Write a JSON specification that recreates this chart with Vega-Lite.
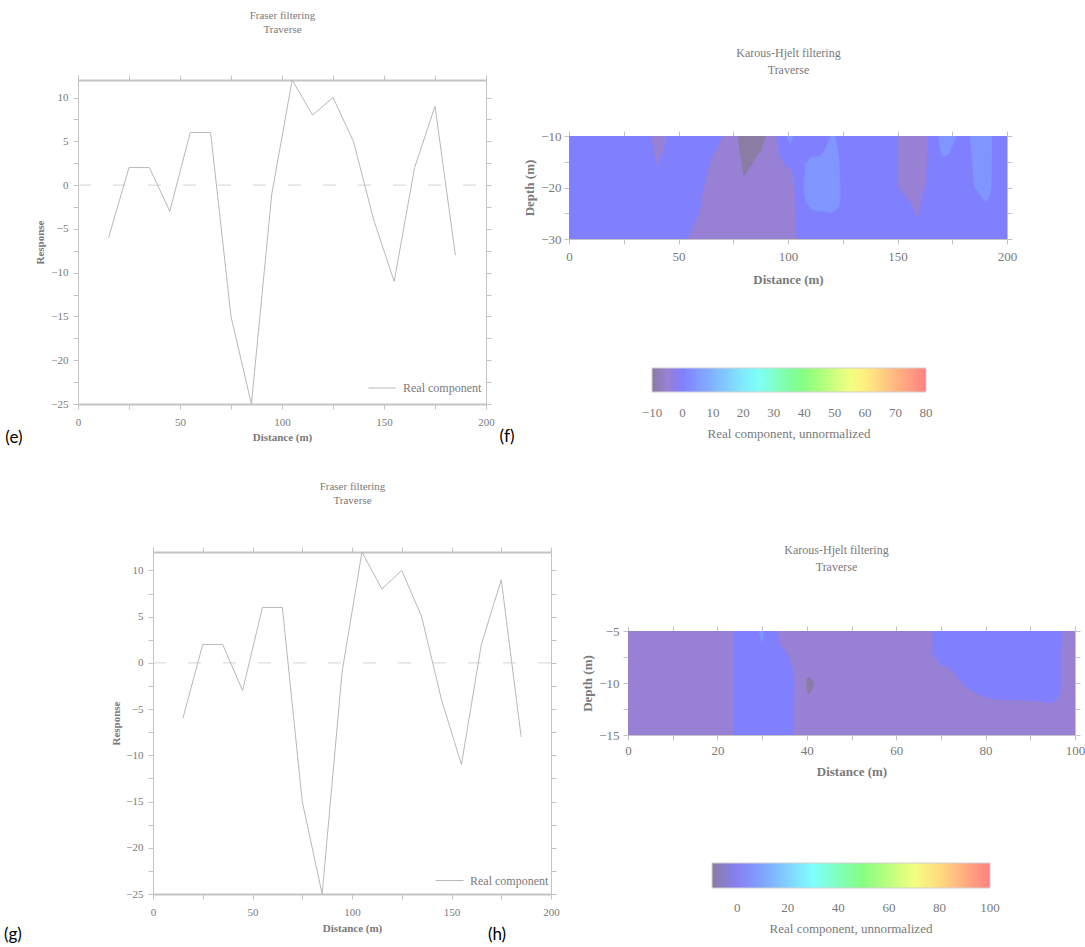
{
  "$schema": "https://vega.github.io/schema/vega-lite/v6.json",
  "background": "white",
  "width": 1085,
  "height": 947,
  "autosize": {"type": "none"},
  "padding": 0,
  "layer": [
    {
      "layer": [
        {
          "data": {"values": [{"z": 0, "a": 0, "b": 200}]},
          "mark": {"type": "rule", "stroke": "#d4d4d4", "strokeDash": [13, 22]},
          "encoding": {
            "x": {"field": "a", "type": "quantitative", "scale": {"domain": [0, 200], "range": [78, 486], "nice": false}, "axis": null},
            "x2": {"field": "b"},
            "y": {"field": "z", "type": "quantitative", "scale": {"domain": [-25, 12], "range": [404, 80], "nice": false, "zero": false}, "axis": null}
          }
        },
        {
          "data": {"values": [
            {"d": 15, "r": -6}, {"d": 25, "r": 2}, {"d": 35, "r": 2}, {"d": 45, "r": -3}, {"d": 55, "r": 6}, {"d": 65, "r": 6},
            {"d": 75, "r": -15}, {"d": 85, "r": -25}, {"d": 95, "r": -1}, {"d": 105, "r": 12}, {"d": 115, "r": 8}, {"d": 125, "r": 10},
            {"d": 135, "r": 5}, {"d": 145, "r": -4}, {"d": 155, "r": -11}, {"d": 165, "r": 2}, {"d": 175, "r": 9}, {"d": 185, "r": -8}
          ]},
          "mark": {"type": "line", "strokeWidth": 1},
          "encoding": {
            "x": {"field": "d", "type": "quantitative", "scale": {"domain": [0, 200], "range": [78, 486], "nice": false},
              "axis": {"orient": "bottom", "offset": -543, "values": [0, 25, 50, 75, 100, 125, 150, 175, 200], "labelExpr": "datum.value % 50 === 0 ? datum.label : ''", "format": "d", "title": "Distance (m)", "domainWidth": 2, "labelPadding": 7, "titlePadding": 4}},
            "y": {"field": "r", "type": "quantitative", "scale": {"domain": [-25, 12], "range": [404, 80], "nice": false, "zero": false},
              "axis": {"orient": "left", "offset": -78, "values": [-25, -22.5, -20, -17.5, -15, -12.5, -10, -7.5, -5, -2.5, 0, 2.5, 5, 7.5, 10], "labelExpr": "datum.value % 5 === 0 ? datum.label : ''", "format": "d", "title": "Response", "labelPadding": 5, "titlePadding": 5}},
            "color": {"datum": "Real component", "type": "nominal", "scale": {"range": ["#b8b8b8"]},
              "legend": {"orient": "none", "legendX": 368, "legendY": 374, "title": null, "symbolType": "stroke", "symbolSize": 729, "symbolStrokeWidth": 1, "labelFontSize": 12, "labelOffset": 7, "padding": 0}}
          }
        },
        {
          "data": {"values": [{"d": -31.4, "r": -28.9, "t": "(e)"}]},
          "mark": {"type": "text", "font": "Lato", "fontSize": 17, "fill": "#000000", "align": "center", "baseline": "middle"},
          "encoding": {
            "x": {"field": "d", "type": "quantitative", "scale": {"domain": [0, 200], "range": [78, 486], "nice": false},
              "axis": {"orient": "top", "offset": -80, "values": [0, 25, 50, 75, 100, 125, 150, 175, 200], "labels": false, "domainWidth": 2, "title": ["Fraser filtering", "Traverse"], "titleFontWeight": "normal", "titleFontSize": 11, "titleLineHeight": 14, "titlePadding": 40}},
            "y": {"field": "r", "type": "quantitative", "scale": {"domain": [-25, 12], "range": [404, 80], "nice": false, "zero": false},
              "axis": {"orient": "right", "offset": -599, "values": [-25, -22.5, -20, -17.5, -15, -12.5, -10, -7.5, -5, -2.5, 0, 2.5, 5, 7.5, 10], "labels": false, "title": null}},
            "text": {"field": "t"}
          }
        }
      ],
      "resolve": {"axis": {"x": "independent", "y": "independent"}}
    },
    {
      "layer": [
        {
          "data": {"values": [{"x0": 0, "x1": 200, "y0": -10, "y1": -30, "v": 0}]},
          "mark": {"type": "rect"},
          "encoding": {
            "x": {"field": "x0", "type": "quantitative", "scale": {"domain": [0, 200], "range": [569, 1007], "nice": false},
              "axis": {"orient": "bottom", "offset": -708, "values": [0, 25, 50, 75, 100, 125, 150, 175, 200], "labelExpr": "datum.value % 50 === 0 ? datum.label : ''", "format": "d", "title": "Distance (m)", "labelFontSize": 13, "titleFontSize": 13, "labelPadding": 6, "titlePadding": 10}},
            "x2": {"field": "x1"},
            "y": {"field": "y0", "type": "quantitative", "scale": {"domain": [-30, -10], "range": [239, 136], "nice": false, "zero": false},
              "axis": {"orient": "left", "offset": -569, "values": [-30, -25, -20, -15, -10], "labelExpr": "datum.value % 10 === 0 ? datum.label : ''", "format": "d", "title": "Depth (m)", "labelFontSize": 13, "titleFontSize": 13, "labelPadding": 3, "titlePadding": 4}},
            "y2": {"field": "y1"},
            "color": {"field": "v", "type": "quantitative",
              "scale": {"domain": [-10, -5, 0, 24, 39, 57, 80], "range": ["#8a7ca2", "#9880d4", "#8080ff", "#80ffff", "#80ff80", "#ffff80", "#ff8080"], "interpolate": "rgb"},
              "legend": {"orient": "none", "legendX": 652, "legendY": 368, "direction": "horizontal", "gradientLength": 274, "gradientThickness": 24, "title": "Real component, unnormalized", "titleOrient": "bottom", "titleAnchor": "middle", "titlePadding": 8, "labelOffset": 15, "labelAlign": "center", "values": [-10, 0, 10, 20, 30, 40, 50, 60, 70, 80], "format": "d",
                "encode": {"labels": {"update": {"align": {"value": "center"}}}}}}
          }
        },
        {
          "data": {"values": [
            {"r": "p1", "x": 37.7, "t": -10, "b": -10, "v": -5}, {"r": "p1", "x": 38.3, "t": -10, "b": -12.1, "v": -5}, {"r": "p1", "x": 40.1, "t": -10, "b": -15.7, "v": -5}, {"r": "p1", "x": 43, "t": -10, "b": -13, "v": -5}, {"r": "p1", "x": 44.3, "t": -10, "b": -10, "v": -5},
            {"r": "p2", "x": 54.2, "t": -30, "b": -30, "v": -5}, {"r": "p2", "x": 57.7, "t": -26.6, "b": -30, "v": -5}, {"r": "p2", "x": 59.7, "t": -24.7, "b": -30, "v": -5}, {"r": "p2", "x": 61.6, "t": -19.8, "b": -30, "v": -5}, {"r": "p2", "x": 64.8, "t": -14.7, "b": -30, "v": -5}, {"r": "p2", "x": 67.9, "t": -12.1, "b": -30, "v": -5}, {"r": "p2", "x": 70.3, "t": -10, "b": -30, "v": -5}, {"r": "p2", "x": 94.7, "t": -10, "b": -30, "v": -5}, {"r": "p2", "x": 95.5, "t": -13.4, "b": -30, "v": -5}, {"r": "p2", "x": 98.6, "t": -15.7, "b": -30, "v": -5}, {"r": "p2", "x": 101.4, "t": -16.6, "b": -30, "v": -5}, {"r": "p2", "x": 103, "t": -19.5, "b": -30, "v": -5}, {"r": "p2", "x": 103.3, "t": -29.2, "b": -30, "v": -5}, {"r": "p2", "x": 104.9, "t": -30, "b": -30, "v": -5},
            {"r": "p3", "x": 150.2, "t": -10, "b": -19.8, "v": -5}, {"r": "p3", "x": 156, "t": -10, "b": -23, "v": -5}, {"r": "p3", "x": 159.4, "t": -10, "b": -26, "v": -5}, {"r": "p3", "x": 161.5, "t": -10, "b": -21, "v": -5}, {"r": "p3", "x": 163, "t": -10, "b": -19.8, "v": -5}, {"r": "p3", "x": 163.8, "t": -10, "b": -10, "v": -5},
            {"r": "b1", "x": 99.4, "t": -10, "b": -10, "v": 4}, {"r": "b1", "x": 100.9, "t": -10, "b": -11.5, "v": 4}, {"r": "b1", "x": 102.5, "t": -10, "b": -10, "v": 4},
            {"r": "b2", "x": 107, "t": -19.8, "b": -19.8, "v": 4}, {"r": "b2", "x": 108, "t": -15.3, "b": -22.5, "v": 4}, {"r": "b2", "x": 110.4, "t": -14.2, "b": -24.2, "v": 4}, {"r": "b2", "x": 114.3, "t": -14, "b": -24.7, "v": 4}, {"r": "b2", "x": 116.7, "t": -12.8, "b": -24.7, "v": 4}, {"r": "b2", "x": 119.3, "t": -10, "b": -25, "v": 4}, {"r": "b2", "x": 121.5, "t": -10, "b": -24.5, "v": 4}, {"r": "b2", "x": 123.3, "t": -14, "b": -23.8, "v": 4}, {"r": "b2", "x": 123.8, "t": -18, "b": -22.5, "v": 4}, {"r": "b2", "x": 124, "t": -21, "b": -21, "v": 4},
            {"r": "b3", "x": 168.6, "t": -10, "b": -10, "v": 4}, {"r": "b3", "x": 169.8, "t": -10, "b": -13.7, "v": 4}, {"r": "b3", "x": 171, "t": -10, "b": -14, "v": 4}, {"r": "b3", "x": 173.3, "t": -10, "b": -13.6, "v": 4}, {"r": "b3", "x": 177.2, "t": -10, "b": -10, "v": 4},
            {"r": "b4", "x": 183, "t": -10, "b": -10, "v": 4}, {"r": "b4", "x": 184.3, "t": -10, "b": -16, "v": 4}, {"r": "b4", "x": 185, "t": -10, "b": -19.8, "v": 4}, {"r": "b4", "x": 188.2, "t": -10, "b": -21.8, "v": 4}, {"r": "b4", "x": 190.3, "t": -10, "b": -22.9, "v": 4}, {"r": "b4", "x": 192.1, "t": -10, "b": -21.8, "v": 4}, {"r": "b4", "x": 192.9, "t": -10, "b": -19.8, "v": 4}, {"r": "b4", "x": 193.2, "t": -10, "b": -10, "v": 4}
          ]},
          "mark": {"type": "area", "orient": "vertical"},
          "encoding": {
            "x": {"field": "x", "type": "quantitative", "scale": {"domain": [0, 200], "range": [569, 1007], "nice": false}, "axis": null},
            "y": {"field": "t", "type": "quantitative", "stack": null, "scale": {"domain": [-30, -10], "range": [239, 136], "nice": false, "zero": false}, "axis": null},
            "y2": {"field": "b"},
            "detail": {"field": "r", "type": "nominal"},
            "color": {"field": "v", "type": "quantitative",
              "scale": {"domain": [-10, -5, 0, 24, 39, 57, 80], "range": ["#8a7ca2", "#9880d4", "#8080ff", "#80ffff", "#80ff80", "#ffff80", "#ff8080"], "interpolate": "rgb"}}
          }
        },
        {
          "data": {"values": [
            {"r": "d1", "x": 77, "t": -10, "b": -10, "v": -10}, {"r": "d1", "x": 78.1, "t": -10, "b": -13.4, "v": -10}, {"r": "d1", "x": 79.7, "t": -10, "b": -17.9, "v": -10}, {"r": "d1", "x": 87.6, "t": -10, "b": -12.8, "v": -10}, {"r": "d1", "x": 90, "t": -10, "b": -10, "v": -10}
          ]},
          "mark": {"type": "area", "orient": "vertical"},
          "encoding": {
            "x": {"field": "x", "type": "quantitative", "scale": {"domain": [0, 200], "range": [569, 1007], "nice": false}, "axis": null},
            "y": {"field": "t", "type": "quantitative", "stack": null, "scale": {"domain": [-30, -10], "range": [239, 136], "nice": false, "zero": false}, "axis": null},
            "y2": {"field": "b"},
            "detail": {"field": "r", "type": "nominal"},
            "color": {"field": "v", "type": "quantitative",
              "scale": {"domain": [-10, -5, 0, 24, 39, 57, 80], "range": ["#8a7ca2", "#9880d4", "#8080ff", "#80ffff", "#80ff80", "#ffff80", "#ff8080"], "interpolate": "rgb"}}
          }
        },
        {
          "data": {"values": [{"x": -28.3, "y": -68.4, "t": "(f)"}]},
          "mark": {"type": "text", "font": "Lato", "fontSize": 17, "fill": "#000000", "align": "center", "baseline": "middle"},
          "encoding": {
            "x": {"field": "x", "type": "quantitative", "scale": {"domain": [0, 200], "range": [569, 1007], "nice": false},
              "axis": {"orient": "top", "offset": -136, "values": [0, 25, 50, 75, 100, 125, 150, 175, 200], "labels": false, "title": ["Karous-Hjelt filtering", "Traverse"], "titleFontWeight": "normal", "titleFontSize": 12, "titleLineHeight": 17, "titlePadding": 54}},
            "y": {"field": "y", "type": "quantitative", "scale": {"domain": [-30, -10], "range": [239, 136], "nice": false, "zero": false},
              "axis": {"orient": "right", "offset": -78, "values": [-30, -25, -20, -15, -10], "labels": false, "title": null}},
            "text": {"field": "t"}
          }
        }
      ],
      "resolve": {"axis": {"x": "independent", "y": "independent"}}
    },
    {
      "layer": [
        {
          "data": {"values": [{"z": 0, "a": 0, "b": 200}]},
          "mark": {"type": "rule", "stroke": "#d4d4d4", "strokeDash": [13, 22]},
          "encoding": {
            "x": {"field": "a", "type": "quantitative", "scale": {"domain": [0, 200], "range": [153, 551], "nice": false}, "axis": null},
            "x2": {"field": "b"},
            "y": {"field": "z", "type": "quantitative", "scale": {"domain": [-25, 12], "range": [894, 552], "nice": false, "zero": false}, "axis": null}
          }
        },
        {
          "data": {"values": [
            {"d": 15, "r": -6}, {"d": 25, "r": 2}, {"d": 35, "r": 2}, {"d": 45, "r": -3}, {"d": 55, "r": 6}, {"d": 65, "r": 6},
            {"d": 75, "r": -15}, {"d": 85, "r": -25}, {"d": 95, "r": -1}, {"d": 105, "r": 12}, {"d": 115, "r": 8}, {"d": 125, "r": 10},
            {"d": 135, "r": 5}, {"d": 145, "r": -4}, {"d": 155, "r": -11}, {"d": 165, "r": 2}, {"d": 175, "r": 9}, {"d": 185, "r": -8}
          ]},
          "mark": {"type": "line", "strokeWidth": 1},
          "encoding": {
            "x": {"field": "d", "type": "quantitative", "scale": {"domain": [0, 200], "range": [153, 551], "nice": false},
              "axis": {"orient": "bottom", "offset": -53, "values": [0, 25, 50, 75, 100, 125, 150, 175, 200], "labelExpr": "datum.value % 50 === 0 ? datum.label : ''", "format": "d", "title": "Distance (m)", "domainWidth": 2, "labelPadding": 7, "titlePadding": 5}},
            "y": {"field": "r", "type": "quantitative", "scale": {"domain": [-25, 12], "range": [894, 552], "nice": false, "zero": false},
              "axis": {"orient": "left", "offset": -153, "values": [-25, -22.5, -20, -17.5, -15, -12.5, -10, -7.5, -5, -2.5, 0, 2.5, 5, 7.5, 10], "labelExpr": "datum.value % 5 === 0 ? datum.label : ''", "format": "d", "title": "Response", "labelPadding": 5, "titlePadding": 4}},
            "color": {"datum": "Real component", "type": "nominal", "scale": {"range": ["#b8b8b8"]},
              "legend": {"orient": "none", "legendX": 435, "legendY": 866, "title": null, "symbolType": "stroke", "symbolSize": 784, "symbolStrokeWidth": 1, "labelFontSize": 12, "labelOffset": 6, "padding": 0}}
          }
        },
        {
          "data": {"values": [{"d": -70.4, "r": -29.4, "t": "(g)"}]},
          "mark": {"type": "text", "font": "Lato", "fontSize": 17, "fill": "#000000", "align": "center", "baseline": "middle"},
          "encoding": {
            "x": {"field": "d", "type": "quantitative", "scale": {"domain": [0, 200], "range": [153, 551], "nice": false},
              "axis": {"orient": "top", "offset": -552, "values": [0, 25, 50, 75, 100, 125, 150, 175, 200], "labels": false, "domainWidth": 2, "title": ["Fraser filtering", "Traverse"], "titleFontWeight": "normal", "titleFontSize": 11, "titleLineHeight": 14, "titlePadding": 41}},
            "y": {"field": "r", "type": "quantitative", "scale": {"domain": [-25, 12], "range": [894, 552], "nice": false, "zero": false},
              "axis": {"orient": "right", "offset": -534, "values": [-25, -22.5, -20, -17.5, -15, -12.5, -10, -7.5, -5, -2.5, 0, 2.5, 5, 7.5, 10], "labels": false, "title": null}},
            "text": {"field": "t"}
          }
        }
      ],
      "resolve": {"axis": {"x": "independent", "y": "independent"}}
    },
    {
      "layer": [
        {
          "data": {"values": [{"x0": 0, "x1": 100, "y0": -5, "y1": -15, "v": -5}]},
          "mark": {"type": "rect"},
          "encoding": {
            "x": {"field": "x0", "type": "quantitative", "scale": {"domain": [0, 100], "range": [628, 1075], "nice": false},
              "axis": {"orient": "bottom", "offset": -212, "values": [0, 10, 20, 30, 40, 50, 60, 70, 80, 90, 100], "labelExpr": "datum.value % 20 === 0 ? datum.label : ''", "format": "d", "title": "Distance (m)", "labelFontSize": 13, "titleFontSize": 13, "labelPadding": 4, "titlePadding": 8}},
            "x2": {"field": "x1"},
            "y": {"field": "y0", "type": "quantitative", "scale": {"domain": [-15, -5], "range": [735, 631], "nice": false, "zero": false},
              "axis": {"orient": "left", "offset": -628, "values": [-15, -12.5, -10, -7.5, -5], "labelExpr": "datum.value % 5 === 0 ? datum.label : ''", "format": "d", "title": "Depth (m)", "labelFontSize": 13, "titleFontSize": 13, "labelPadding": 4, "titlePadding": 4}},
            "y2": {"field": "y1"},
            "color": {"field": "v", "type": "quantitative",
              "scale": {"domain": [-10, -5, 2, 30, 49, 72, 100], "range": ["#8a7ca2", "#9880d4", "#8080ff", "#80ffff", "#80ff80", "#ffff80", "#ff8080"], "interpolate": "rgb"},
              "legend": {"orient": "none", "legendX": 712, "legendY": 863, "direction": "horizontal", "gradientLength": 278, "gradientThickness": 25, "title": "Real component, unnormalized", "titleOrient": "bottom", "titleAnchor": "middle", "titlePadding": 8, "labelOffset": 14, "labelAlign": "center", "values": [0, 20, 40, 60, 80, 100], "format": "d",
                "encode": {"labels": {"update": {"align": {"value": "center"}}}}}}
          }
        },
        {
          "data": {"values": [
            {"r": "hb1", "x": 23.5, "t": -5, "b": -15, "v": 2}, {"r": "hb1", "x": 33.4, "t": -5, "b": -15, "v": 2}, {"r": "hb1", "x": 34, "t": -6.3, "b": -15, "v": 2}, {"r": "hb1", "x": 35.8, "t": -7.2, "b": -15, "v": 2}, {"r": "hb1", "x": 36.5, "t": -8.2, "b": -15, "v": 2}, {"r": "hb1", "x": 36.9, "t": -8.6, "b": -15, "v": 2}, {"r": "hb1", "x": 37.1, "t": -9.2, "b": -13.5, "v": 2}, {"r": "hb1", "x": 37.3, "t": -9.8, "b": -9.8, "v": 2},
            {"r": "hb2", "x": 68.1, "t": -5, "b": -7.2, "v": 2}, {"r": "hb2", "x": 70, "t": -5, "b": -8.3, "v": 2}, {"r": "hb2", "x": 71.8, "t": -5, "b": -8.5, "v": 2}, {"r": "hb2", "x": 75.6, "t": -5, "b": -10.4, "v": 2}, {"r": "hb2", "x": 78.6, "t": -5, "b": -11.2, "v": 2}, {"r": "hb2", "x": 82.3, "t": -5, "b": -11.6, "v": 2}, {"r": "hb2", "x": 89.9, "t": -5, "b": -11.7, "v": 2}, {"r": "hb2", "x": 92.9, "t": -5, "b": -11.8, "v": 2}, {"r": "hb2", "x": 94.7, "t": -5, "b": -12, "v": 2}, {"r": "hb2", "x": 96.2, "t": -5, "b": -11.5, "v": 2}, {"r": "hb2", "x": 96.9, "t": -5, "b": -10.5, "v": 2}, {"r": "hb2", "x": 97.1, "t": -5, "b": -7, "v": 2}, {"r": "hb2", "x": 97.2, "t": -5, "b": -5, "v": 2},
            {"r": "hl1", "x": 29.3, "t": -5, "b": -5, "v": 7}, {"r": "hl1", "x": 29.9, "t": -5, "b": -6.2, "v": 7}, {"r": "hl1", "x": 30.5, "t": -5, "b": -5, "v": 7}
          ]},
          "mark": {"type": "area", "orient": "vertical"},
          "encoding": {
            "x": {"field": "x", "type": "quantitative", "scale": {"domain": [0, 100], "range": [628, 1075], "nice": false}, "axis": null},
            "y": {"field": "t", "type": "quantitative", "stack": null, "scale": {"domain": [-15, -5], "range": [735, 631], "nice": false, "zero": false}, "axis": null},
            "y2": {"field": "b"},
            "detail": {"field": "r", "type": "nominal"},
            "color": {"field": "v", "type": "quantitative",
              "scale": {"domain": [-10, -5, 2, 30, 49, 72, 100], "range": ["#8a7ca2", "#9880d4", "#8080ff", "#80ffff", "#80ff80", "#ffff80", "#ff8080"], "interpolate": "rgb"}}
          }
        },
        {
          "data": {"values": [
            {"r": "hd1", "x": 39.9, "t": -9.6, "b": -10.6, "v": -10}, {"r": "hd1", "x": 40.5, "t": -9.4, "b": -11.2, "v": -10}, {"r": "hd1", "x": 41.2, "t": -9.7, "b": -10.6, "v": -10}, {"r": "hd1", "x": 41.6, "t": -10, "b": -10.2, "v": -10}
          ]},
          "mark": {"type": "area", "orient": "vertical"},
          "encoding": {
            "x": {"field": "x", "type": "quantitative", "scale": {"domain": [0, 100], "range": [628, 1075], "nice": false}, "axis": null},
            "y": {"field": "t", "type": "quantitative", "stack": null, "scale": {"domain": [-15, -5], "range": [735, 631], "nice": false, "zero": false}, "axis": null},
            "y2": {"field": "b"},
            "detail": {"field": "r", "type": "nominal"},
            "color": {"field": "v", "type": "quantitative",
              "scale": {"domain": [-10, -5, 2, 30, 49, 72, 100], "range": ["#8a7ca2", "#9880d4", "#8080ff", "#80ffff", "#80ff80", "#ffff80", "#ff8080"], "interpolate": "rgb"}}
          }
        },
        {
          "data": {"values": [{"x": -29.3, "y": -34.2, "t": "(h)"}]},
          "mark": {"type": "text", "font": "Lato", "fontSize": 17, "fill": "#000000", "align": "center", "baseline": "middle"},
          "encoding": {
            "x": {"field": "x", "type": "quantitative", "scale": {"domain": [0, 100], "range": [628, 1075], "nice": false},
              "axis": {"orient": "top", "offset": -631, "values": [0, 10, 20, 30, 40, 50, 60, 70, 80, 90, 100], "labels": false, "title": ["Karous-Hjelt filtering", "Traverse"], "titleFontWeight": "normal", "titleFontSize": 12, "titleLineHeight": 17, "titlePadding": 52, "titleX": 836}},
            "y": {"field": "y", "type": "quantitative", "scale": {"domain": [-15, -5], "range": [735, 631], "nice": false, "zero": false},
              "axis": {"orient": "right", "offset": -10, "values": [-15, -12.5, -10, -7.5, -5], "labels": false, "title": null}},
            "text": {"field": "t"}
          }
        }
      ],
      "resolve": {"axis": {"x": "independent", "y": "independent"}}
    }
  ],
  "resolve": {
    "scale": {"x": "independent", "y": "independent", "color": "independent"},
    "axis": {"x": "independent", "y": "independent"},
    "legend": {"color": "independent"}
  },
  "config": {
    "view": {"stroke": null},
    "font": "Liberation Serif",
    "axis": {
      "domainColor": "#c4c4c4", "tickColor": "#c4c4c4", "labelColor": "#7a7a7a", "titleColor": "#7a7a7a",
      "labelFont": "Liberation Serif", "titleFont": "Liberation Serif", "labelFontSize": 11, "titleFontSize": 11,
      "titleFontWeight": "bold", "grid": false, "labelFlush": false, "labelOverlap": false, "tickSize": 5,
      "labelPadding": 3, "titlePadding": 6, "zindex": 1
    },
    "legend": {
      "labelFont": "Liberation Serif", "labelFontSize": 13, "labelColor": "#7a7a7a",
      "titleFont": "Liberation Serif", "titleFontSize": 13, "titleColor": "#7a7a7a", "titleFontWeight": "normal",
      "gradientStrokeColor": "#d0d0d0", "gradientStrokeWidth": 1, "padding": 0
    }
  }
}
